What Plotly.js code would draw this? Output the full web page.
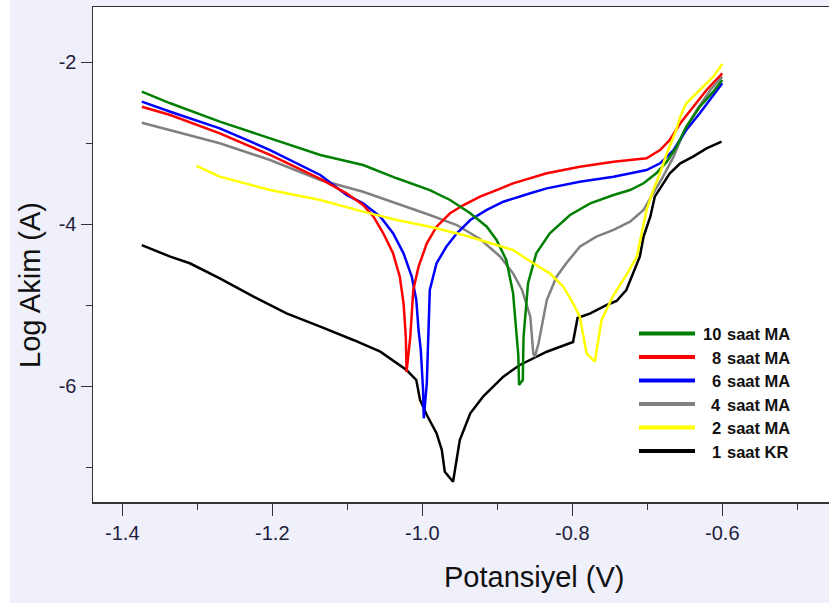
<!DOCTYPE html>
<html>
<head>
<meta charset="utf-8">
<script src="https://cdn.plot.ly/plotly-3.0.1.min.js"></script>
<style>html,body{margin:0;padding:0;background:#f0f0fb;}</style>
</head>
<body>
<div id="chart" style="width:829px;height:603px;"></div>
<script>
// ---- data ----
const seriesNames = ['10 saat MA', '8 saat MA', '6 saat MA', '4 saat MA', '2 saat MA', '1 saat KR'];
const seriesColors = ['#008000', '#ff0000', '#0000ff', '#808080', '#ffff00', '#000000'];

const x10 = [-1.374,-1.336,-1.270,-1.203,-1.136,-1.079,-1.034,-0.990,-0.963,-0.936,-0.914,-0.901,-0.888,-0.879,-0.874,-0.872,-0.871,-0.866,-0.865,-0.859,-0.848,-0.830,-0.803,-0.776,-0.745,-0.723,-0.705,-0.688,-0.674,-0.661,-0.648,-0.630,-0.612,-0.600];
const y10 = [-2.363,-2.506,-2.733,-2.938,-3.144,-3.268,-3.432,-3.577,-3.700,-3.864,-4.030,-4.194,-4.441,-4.848,-5.342,-5.614,-5.984,-5.922,-5.388,-4.728,-4.358,-4.111,-3.885,-3.741,-3.638,-3.577,-3.494,-3.370,-3.227,-3.042,-2.795,-2.548,-2.363,-2.219];

const x8 = [-1.374,-1.336,-1.270,-1.203,-1.136,-1.101,-1.079,-1.065,-1.052,-1.039,-1.030,-1.025,-1.022,-1.021,-1.016,-1.012,-1.005,-0.994,-0.981,-0.963,-0.945,-0.923,-0.901,-0.879,-0.834,-0.790,-0.745,-0.701,-0.683,-0.670,-0.656,-0.639,-0.621,-0.600];
const y8 = [-2.548,-2.651,-2.877,-3.144,-3.440,-3.617,-3.762,-3.906,-4.111,-4.358,-4.647,-4.975,-5.388,-5.823,-5.388,-4.811,-4.523,-4.235,-4.030,-3.864,-3.762,-3.659,-3.577,-3.494,-3.370,-3.289,-3.227,-3.185,-3.083,-2.959,-2.753,-2.548,-2.342,-2.136];

const x6 = [-1.374,-1.336,-1.270,-1.203,-1.136,-1.101,-1.079,-1.056,-1.039,-1.025,-1.014,-1.008,-1.005,-1.002,-0.999,-0.998,-0.994,-0.992,-0.990,-0.981,-0.968,-0.954,-0.936,-0.914,-0.892,-0.856,-0.834,-0.790,-0.745,-0.701,-0.683,-0.665,-0.648,-0.630,-0.612,-0.600];
const y6 = [-2.486,-2.610,-2.815,-3.083,-3.391,-3.638,-3.741,-3.906,-4.111,-4.358,-4.647,-4.935,-5.305,-5.552,-6.046,-6.395,-5.963,-5.345,-4.811,-4.481,-4.277,-4.111,-3.947,-3.823,-3.721,-3.617,-3.556,-3.474,-3.412,-3.330,-3.247,-3.083,-2.836,-2.630,-2.404,-2.259];

const x4 = [-1.374,-1.336,-1.270,-1.203,-1.136,-1.079,-1.034,-0.990,-0.954,-0.923,-0.896,-0.879,-0.867,-0.856,-0.852,-0.850,-0.845,-0.834,-0.821,-0.808,-0.790,-0.768,-0.745,-0.723,-0.705,-0.692,-0.679,-0.665,-0.652,-0.634,-0.616,-0.600];
const y4 = [-2.746,-2.836,-3.000,-3.206,-3.453,-3.598,-3.741,-3.885,-4.009,-4.181,-4.400,-4.605,-4.811,-5.141,-5.593,-5.638,-5.469,-4.935,-4.647,-4.481,-4.277,-4.153,-4.070,-3.968,-3.823,-3.617,-3.412,-3.165,-2.877,-2.589,-2.342,-2.178];

const x2 = [-1.301,-1.270,-1.203,-1.136,-1.079,-1.034,-0.990,-0.945,-0.901,-0.879,-0.852,-0.830,-0.812,-0.799,-0.790,-0.785,-0.781,-0.770,-0.765,-0.761,-0.745,-0.728,-0.714,-0.708,-0.701,-0.692,-0.683,-0.674,-0.663,-0.656,-0.648,-0.630,-0.612,-0.600];
const y2 = [-3.280,-3.412,-3.577,-3.700,-3.844,-3.947,-4.030,-4.132,-4.256,-4.317,-4.481,-4.605,-4.770,-4.975,-5.141,-5.388,-5.593,-5.696,-5.388,-5.181,-4.873,-4.626,-4.400,-4.153,-3.823,-3.577,-3.370,-3.123,-2.877,-2.672,-2.506,-2.342,-2.178,-2.021];

const x1 = [-1.374,-1.336,-1.310,-1.270,-1.225,-1.181,-1.136,-1.092,-1.056,-1.021,-1.008,-1.003,-0.994,-0.981,-0.974,-0.970,-0.959,-0.954,-0.950,-0.936,-0.919,-0.892,-0.870,-0.834,-0.808,-0.799,-0.793,-0.776,-0.754,-0.741,-0.728,-0.719,-0.710,-0.705,-0.696,-0.690,-0.679,-0.670,-0.656,-0.639,-0.621,-0.601];
const y1 = [-4.256,-4.400,-4.481,-4.667,-4.894,-5.099,-5.264,-5.428,-5.573,-5.799,-5.922,-6.169,-6.354,-6.580,-6.786,-7.054,-7.178,-6.910,-6.663,-6.333,-6.128,-5.881,-5.737,-5.573,-5.490,-5.453,-5.157,-5.099,-4.996,-4.947,-4.811,-4.605,-4.400,-4.153,-3.906,-3.659,-3.494,-3.370,-3.247,-3.165,-3.062,-2.980];

const xTickVals = [-1.4, -1.2, -1.0, -0.8, -0.6];
const xTickText = ['-1.4', '-1.2', '-1.0', '-0.8', '-0.6'];
const yTickVals = [-2, -4, -6];
const yTickText = ['-2', '-4', '-6'];
const xTitle = 'Potansiyel (V)';
const yTitle = 'Log Akim (A)';

// ---- figure ----
const seriesX = [x10, x8, x6, x4, x2, x1];
const seriesY = [y10, y8, y6, y4, y2, y1];
const drawOrder = [5, 3, 2, 1, 0, 4];

const traces = drawOrder.map(i => ({
  type: 'scatter', mode: 'lines',
  x: seriesX[i], y: seriesY[i], name: seriesNames[i],
  line: {color: seriesColors[i], width: 2.5},
  showlegend: false, hoverinfo: 'skip'
}));

// pixel -> paper helpers for layout placement
const L = 93, T = 7, PW = 736, PH = 495;
const fx = px => (px - L) / PW;
const fy = py => (T + PH - py) / PH;

const shapes = [
  {type: 'rect', xref: 'paper', yref: 'paper', x0: fx(0), x1: fx(10), y0: fy(603), y1: fy(0),
   fillcolor: '#ffffff', line: {width: 0}, layer: 'below'}
];
const annotations = [
  {xref: 'paper', yref: 'paper', x: fx(30), y: fy(285), text: yTitle, textangle: -90,
   showarrow: false, xanchor: 'center', yanchor: 'middle',
   font: {family: 'Liberation Sans, Arial, sans-serif', size: 29, color: '#111111'}},
  {xref: 'paper', yref: 'paper', x: fx(534), y: fy(577), text: xTitle,
   showarrow: false, xanchor: 'center', yanchor: 'middle',
   font: {family: 'Liberation Sans, Arial, sans-serif', size: 29, color: '#111111'}}
];
const rowY = [333.5, 357, 380.5, 404, 427.5, 451];
seriesNames.forEach((nm, i) => {
  shapes.push({type: 'line', xref: 'paper', yref: 'paper', x0: fx(639), x1: fx(695), y0: fy(rowY[i]), y1: fy(rowY[i]),
    line: {color: seriesColors[i], width: 4}});
  const sp = nm.indexOf(' ');
  const f = {family: 'Liberation Sans, Arial, sans-serif', size: 16.5, color: '#111111', weight: 'bold'};
  annotations.push({xref: 'paper', yref: 'paper', x: fx(723), y: fy(rowY[i] + 0.5), text: '<b>' + nm.slice(0, sp) + '</b>',
    showarrow: false, xanchor: 'right', yanchor: 'middle', font: f});
  annotations.push({xref: 'paper', yref: 'paper', x: fx(724.5), y: fy(rowY[i] + 0.5), text: '<b>' + nm.slice(sp + 1) + '</b>',
    showarrow: false, xanchor: 'left', yanchor: 'middle', font: f});
});

const tickFont = {family: 'Liberation Sans, Arial, sans-serif', size: 20, color: '#1e1e3c'};
const layout = {
  width: 829, height: 603,
  margin: {l: L, r: 829 - L - PW, t: T, b: 603 - T - PH, pad: 0},
  paper_bgcolor: '#f0f0fb', plot_bgcolor: '#ffffff',
  showlegend: false,
  xaxis: {
    range: [-1.4 - (122.3 - L) / 750, -1.4 - (122.3 - L) / 750 + PW / 750],
    tickmode: 'array', tickvals: xTickVals, ticktext: xTickText,
    ticks: 'outside', ticklen: 12, tickwidth: 1.5, tickcolor: '#333333',
    minor: {tickmode: 'array', tickvals: [-1.3, -1.1, -0.9, -0.7, -0.5], ticks: 'outside', ticklen: 6, tickwidth: 1.5, tickcolor: '#333333', showgrid: false},
    showline: true, linecolor: '#333333', linewidth: 1.5, mirror: true,
    showgrid: false, zeroline: false, tickfont: tickFont
  },
  yaxis: {
    range: [-2 + (62.3 - T) / 81 - PH / 81, -2 + (62.3 - T) / 81],
    tickmode: 'array', tickvals: yTickVals, ticktext: yTickText,
    ticks: 'outside', ticklen: 11, tickwidth: 1.5, tickcolor: '#333333',
    minor: {tickmode: 'array', tickvals: [-3, -5, -7], ticks: 'outside', ticklen: 6, tickwidth: 1.5, tickcolor: '#333333', showgrid: false},
    showline: true, linecolor: '#333333', linewidth: 1.5, mirror: false,
    showgrid: false, zeroline: false, tickfont: tickFont
  },
  shapes: shapes,
  annotations: annotations
};

Plotly.newPlot('chart', traces, layout, {staticPlot: true, displayModeBar: false});
</script>
</body>
</html>
